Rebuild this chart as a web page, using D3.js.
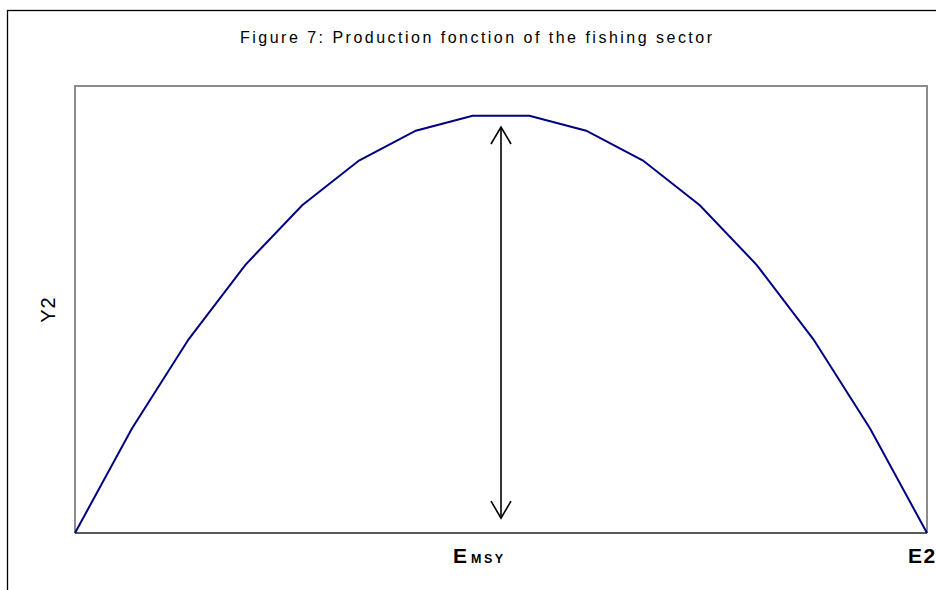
<!DOCTYPE html>
<html>
<head>
<meta charset="utf-8">
<script src="https://cdn.jsdelivr.net/npm/d3@7"></script>
<style>
  body { margin: 0; background: #fff; }
  svg { display: block; font-family: Arial, "Liberation Sans", sans-serif; }
</style>
</head>
<body>
<svg id="chart" width="936" height="590"></svg>
<script>
"use strict";

// effort index (0..15) and production
var effort = [0, 1, 2, 3, 4, 5, 6, 7, 8, 9, 10, 11, 12, 13, 14, 15];
var production = [0, 14, 26, 36, 44, 50, 54, 56, 56, 54, 50, 44, 36, 26, 14, 0];

// double arrow at E_MSY: [x, yFrom, yTo]
var msyArrow = [7.5, 2, 54.5];

var xTicks = [{ v: 7.5, main: "E", sub: "MSY" }, { v: 15, main: "E2", sub: "" }];

var svg = d3.select('#chart');

var margin = { left: 75, top: 86, right: 9, bottom: 57 };
var width = 936, height = 590;

var x = d3.scaleLinear().domain([0, 15]).range([margin.left, width - margin.right]);
var y = d3.scaleLinear().domain([0, 60]).range([height - margin.bottom, margin.top]);

// outer frame (runs off the right and bottom edges)
svg.append('rect')
    .attr('x', 7.5).attr('y', 10.5)
    .attr('width', 960).attr('height', 620)
    .attr('fill', 'none').attr('stroke', '#000').attr('stroke-width', 1.3);

svg.append('text')
    .attr('x', 476).attr('y', 43)
    .attr('text-anchor', 'middle')
    .attr('font-size', 16)
    .attr('textLength', 472).attr('lengthAdjust', 'spacing')
    .attr('fill', '#000')
    .text('Figure 7: Production fonction of the fishing sector');

// plot area frame
svg.append('path')
    .attr('d', 'M' + x(0) + ',' + y(0) + 'V' + y(60) + 'H' + x(15) + 'V' + y(0))
    .attr('fill', 'none').attr('stroke', '#8c8c8c').attr('stroke-width', 2);

svg.append('line')
    .attr('x1', x(0)).attr('x2', x(15))
    .attr('y1', y(0)).attr('y2', y(0))
    .attr('stroke', '#222').attr('stroke-width', 1.5);

var line = d3.line()
    .x(function(d, i) { return x(effort[i]); })
    .y(function(d) { return y(d); });

svg.append('path')
    .datum(production)
    .attr('d', line)
    .attr('fill', 'none')
    .attr('stroke', '#000080')
    .attr('stroke-width', 2);

// arrow
var ax = x(msyArrow[0]), ay1 = y(msyArrow[1]), ay2 = y(msyArrow[2]);
var arrow = svg.append('g').attr('stroke', '#000').attr('stroke-width', 1.6).attr('fill', 'none');
arrow.append('line').attr('x1', ax).attr('x2', ax).attr('y1', ay1).attr('y2', ay2);
arrow.append('path').attr('d', 'M' + (ax - 10) + ',' + (ay2 + 17) + 'L' + ax + ',' + ay2 + 'L' + (ax + 10) + ',' + (ay2 + 17));
arrow.append('path').attr('d', 'M' + (ax - 10) + ',' + (ay1 - 17) + 'L' + ax + ',' + ay1 + 'L' + (ax + 10) + ',' + (ay1 - 17));

// axis labels
var tl = svg.selectAll('.xlab').data(xTicks).enter().append('text')
    .attr('class', 'xlab')
    .attr('y', 563)
    .attr('font-weight', 'bold')
    .attr('fill', '#000');

tl.filter(function(d) { return d.sub !== ""; })
    .attr('x', function(d) { return x(d.v) - 48; })
    .each(function(d) {
        var t = d3.select(this);
        t.append('tspan').attr('font-size', 21).text(d.main);
        t.append('tspan').attr('font-size', 12.5).attr('letter-spacing', 2.5).attr('dx', 4).text(d.sub);
    });

tl.filter(function(d) { return d.sub === ""; })
    .attr('x', function(d) { return x(d.v) - 19; })
    .attr('font-size', 21)
    .attr('letter-spacing', 1.5)
    .text(function(d) { return d.main; });

svg.append('text')
    .attr('transform', 'translate(55,' + (y(30)) + ') rotate(-90)')
    .attr('text-anchor', 'middle')
    .attr('font-size', 20)
    .attr('letter-spacing', 1)
    .attr('fill', '#000')
    .text('Y2');
</script>
</body>
</html>
